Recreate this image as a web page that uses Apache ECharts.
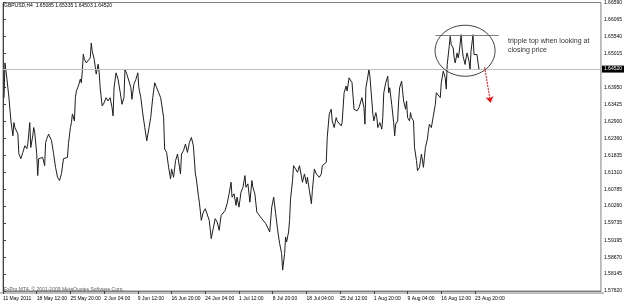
<!DOCTYPE html>
<html><head><meta charset="utf-8">
<script src="https://cdn.jsdelivr.net/npm/echarts@6/dist/echarts.min.js"></script>
<style>html,body{margin:0;padding:0;background:#fff}#c{width:625px;height:306px}</style>
</head><body><div id="c"></div>
<script>
// bar index (H4 bars from 11 May 2011 00:00)
const barIdx = [
1,2,4,6,7,8,10,11,12,14,
15,16,18,20,21,22,24,25,26,27,
28,30,31,32,34,35,36,38,40,42,
43,44,46,49,51,53,55,57,59,61,
63,65,66,68,69,70,72,73,74,76,
78,79,80,81,82,84,86,88,89,90,
92,94,96,97,98,100,102,104,106,108,
110,111,112,114,116,118,120,122,123,125,
127,129,130,132,134,136,137,139,141,143,
145,147,149,151,153,155,157,159,160,162,
163,165,167,169,170,172,174,176,178,179,
180,182,184,186,188,190,192,194,195,197,
198,200,202,204,206,208,210,212,214,216,
218,220,222,224,226,228,230,231,233,235,
236,238,240,242,244,245,247,249,251,252,
254,256,258,261,263,265,267,269,271,273,
275,277,279,281,282,284,285,286,288,289,
290,292,293,295,297,299,
302,304,306,307,309,311,312,314,316,317,
319,321,322,324,326,327,329,331,332,334,
336,337,339,341,342,344,346,347,349,351,
352,354,356,357,359,361,362,364,365,366,
368,369,370,372,373,374,376,377,378,380,
382,383,384,386,388,389,390,392,394,395,
396,398,399,400,402,403,404,406,407,408,
410,411,412,414,415,417,418,420,421,422,
424,425,426,428,429,430,432,434,436,437,
439,441,442,444,446,447,448,450,451,452,
454,455,456,458,459,460,462,463,464,466,
467,468,470,471,472,474,475,476,478,479,
480,481];
// GBPUSD H4 close
const closePrice = [
1.63630,1.64712,1.64208,1.63630,1.63682,1.62909,1.62445,1.62856,1.62702,1.62754,
1.62507,1.61888,1.61734,1.61929,1.61888,1.62136,1.62043,1.62198,1.62507,1.62856,
1.62083,1.62445,1.62702,1.62547,1.61888,1.61208,1.61734,1.61672,1.61774,1.61517,
1.62238,1.62343,1.62498,1.62290,1.61888,1.61465,1.61155,1.61053,1.61270,1.61734,
1.61672,1.61774,1.62198,1.62702,1.62856,1.63126,1.62909,1.63630,1.63837,1.63992,
1.64208,1.64094,1.64456,1.64981,1.64827,1.64712,1.64663,1.64867,1.65331,1.65074,
1.64827,1.64363,1.64672,1.64403,1.63939,1.63373,1.63475,1.63630,1.63528,1.63630,
1.63320,1.63064,1.63939,1.64403,1.64208,1.63837,1.63426,1.63630,1.64508,1.64353,
1.64403,1.63939,1.63580,1.64044,1.64199,1.64403,1.63939,1.63630,1.63126,1.62702,
1.62290,1.62352,1.63011,1.63630,1.64094,1.63939,1.63784,1.63630,1.63580,1.63011,
1.62034,1.61929,1.61465,1.61106,1.61415,1.61155,1.61672,1.61879,1.61465,1.61260,
1.61879,1.61981,1.62188,1.61929,1.62238,1.62392,1.62136,1.61260,1.61106,1.60589,
1.60382,1.59816,1.60073,1.60178,1.60227,1.59816,1.59250,1.59559,1.59869,1.59763,
1.59507,1.59971,1.60023,1.60125,1.60333,1.60642,1.61001,1.60537,1.60642,1.60280,
1.60537,1.60227,1.60691,1.60846,1.61208,1.60846,1.60951,1.60382,1.61053,1.60846,
1.60642,1.60073,1.60023,1.59869,1.59816,1.59714,1.59763,1.59454,1.60227,1.60537,
1.60023,1.59507,1.59095,1.58786,1.58270,1.58786,1.59299,1.59145,1.59454,1.59816,
1.60487,1.61053,1.61517,1.61415,1.61310,1.61517,
1.61001,1.61260,1.60951,1.61155,1.60744,1.60333,1.60744,1.61415,1.61260,1.61310,
1.61155,1.61260,1.61517,1.61570,1.61619,1.62392,1.63116,1.63271,1.62909,1.62702,
1.63011,1.62909,1.62962,1.62754,1.62856,1.63784,1.63992,1.63837,1.64248,1.64301,
1.64094,1.63271,1.63320,1.63218,1.63320,1.63271,1.63630,1.63320,1.62807,1.63939,
1.64301,1.64508,1.64301,1.63528,1.63116,1.62909,1.63166,1.63011,1.62702,1.62856,
1.62652,1.63011,1.63784,1.64094,1.64301,1.63784,1.63939,1.63426,1.62856,1.62445,
1.62807,1.62909,1.63528,1.63939,1.64146,1.64094,1.63528,1.63271,1.63528,1.63011,
1.62909,1.63166,1.63011,1.62909,1.62083,1.61672,1.61363,1.61465,1.61672,1.61879,
1.61465,1.61774,1.62083,1.62343,1.62600,1.62807,1.62702,1.62754,1.63426,1.63784,
1.63837,1.63630,1.64094,1.64456,1.64248,1.63899,1.64663,1.65229,1.65538,1.65281,
1.65176,1.64867,1.64712,1.65022,1.64867,1.65022,1.65591,1.65176,1.64919,1.64663,
1.64867,1.65022,1.64765,1.64508,1.65074,1.65591,1.64972,1.64919,1.64972,1.65022,
1.64508,1.64520];

const xTickBars = [0,34,68,102,136,170,204,238,272,306,340,374,408,442,476];
const xTickLabels = ['11 May 2011','18 May 12:00','25 May 20:00','2 Jun 04:00','9 Jun 12:00','16 Jun 20:00','24 Jun 04:00','1 Jul 12:00','8 Jul 20:00','18 Jul 04:00','25 Jul 12:00','1 Aug 20:00','9 Aug 04:00','16 Aug 12:00','23 Aug 20:00'];
const yTickLabels = ['1.57620','1.58145','1.58670','1.59195','1.59735','1.60260','1.60785','1.61310','1.61835','1.62360','1.62900','1.63425','1.63950','1.65015','1.65540','1.66065','1.66590'];
const yMin = 1.57620, yMax = 1.66590;
const currentPrice = 1.64520;
const titleText = 'GBPUSD,H4  1.65085 1.65335 1.64503 1.64520';
const noteText = 'tripple top when looking at\nclosing price';
// annotations (bar, price)
const topLine = [[436, 1.65560], [500, 1.65560]];
const arrowLine = [[485.7, 1.64579], [491.7, 1.63475]];
const circleCenter = [466, 1.65090];

const FONT = 'Liberation Sans';
const chart = echarts.init(document.getElementById('c'), null, {renderer: 'canvas'});
const yVals = yTickLabels.map(Number);
chart.setOption({
  animation: false,
  backgroundColor: '#fff',
  grid: {left: 1, right: 21, top: 1, bottom: 15, show: true, borderColor: '#808080', borderWidth: 1},
  xAxis: {
    type: 'value', min: 0, max: 603,
    axisLine: {show: true, lineStyle: {color: '#808080', width: 1}},
    splitLine: {show: false},
    axisTick: {show: true, customValues: xTickBars, length: 3, lineStyle: {color: '#404040'}},
    axisLabel: {customValues: xTickBars, align: 'left', margin: 5, fontSize: 5, color: '#000', fontFamily: FONT,
      formatter: v => xTickLabels[xTickBars.indexOf(v)] || ''}
  },
  yAxis: {
    type: 'value', position: 'right', min: yMin, max: yMax,
    axisLine: {show: true, lineStyle: {color: '#404040', width: 1}},
    splitLine: {show: false},
    axisTick: {show: true, customValues: yVals, length: 3, lineStyle: {color: '#404040'}},
    axisLabel: {customValues: yVals, margin: 3, fontSize: 5, color: '#000', fontFamily: FONT,
      formatter: v => v.toFixed(5)}
  },
  series: [{
    type: 'line', showSymbol: false, symbol: 'none',
    data: barIdx.map((b, i) => [b, closePrice[i]]),
    lineStyle: {color: '#1e1e1e', width: 1},
    markLine: {
      silent: true, symbol: 'none', animation: false, precision: 5,
      data: [
        {yAxis: currentPrice, lineStyle: {color: '#c0c0c0', width: 1, type: 'solid'},
         label: {show: true, position: 'end', distance: 1, formatter: currentPrice.toFixed(5), backgroundColor: '#000', color: '#fff', fontSize: 5, fontFamily: FONT, padding: [1, 2]}},
        [{coord: topLine[0], lineStyle: {color: '#808080', width: 1, type: 'solid'}, label: {show: false}}, {coord: topLine[1]}],
        [{coord: arrowLine[0], symbol: 'none', lineStyle: {color: '#ff0000', width: 1, type: [2, 1]}, label: {show: false}}, {coord: arrowLine[1], symbol: 'arrow', symbolSize: 6}]
      ]
    }
  }]
});
const c = chart.convertToPixel({gridIndex: 0}, circleCenter);
chart.setOption({
  graphic: [
    {type: 'text', left: 4, top: 3, style: {text: titleText, fontSize: 5, fill: '#000', fontFamily: FONT}},
    {type: 'ellipse', shape: {cx: c[0], cy: c[1], rx: 30, ry: 25.5}, style: {fill: 'none', stroke: '#404040', lineWidth: 1}, z: 10},
    {type: 'text', left: 508, top: 37, style: {text: noteText, fontSize: 7, lineHeight: 9, fill: '#333', fontFamily: FONT}},
    {type: 'text', left: 4, top: 287, style: {text: 'FxPro MT4, © 2001-2009 MetaQuotes Software Corp.', fontSize: 5, fill: '#606060', fontFamily: FONT}},
    {type: 'line', shape: {x1: 0, y1: 293, x2: 604, y2: 293}, style: {stroke: '#808080', lineWidth: 1}}
  ]
});
</script></body></html>
